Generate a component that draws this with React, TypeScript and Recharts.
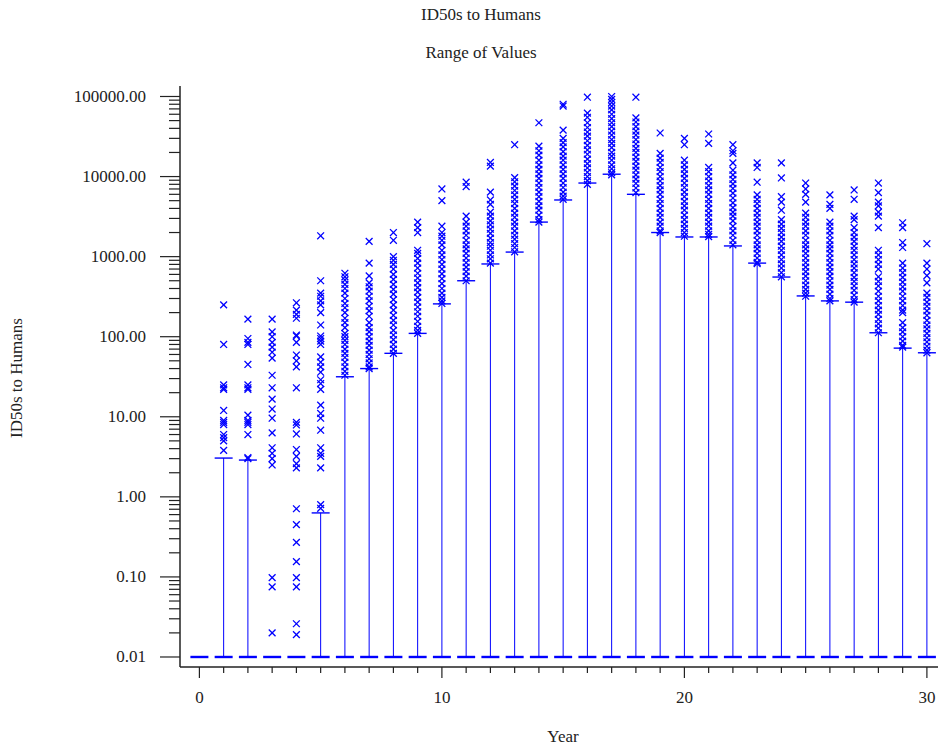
import { ComposedChart, XAxis, YAxis, Scatter, ReferenceLine } from 'recharts';

const FLOOR = 0.01;

const years = [
  0, 1, 2, 3, 4, 5, 6, 7, 8, 9, 10, 11, 12, 13, 14, 15, 16, 17, 18, 19, 20, 21, 22, 23, 24, 25, 26, 27, 28, 29, 30,
];

// top of each year's range line (null = no line drawn)
const upper: (number | null)[] = [
  null, 3.05, 2.88, null, null, 0.63, 31.6, 40, 62, 110, 257, 500, 810, 1140, 2700, 5100, 8300, 10700, 6000, 2000,
  1760, 1760, 1360, 830, 556, 323, 280, 270, 112, 72, 63,
];

// individual values plotted as x markers, one list per year
const markers: number[][] = [
  [],
  [250, 80, 25, 23, 22, 12, 9, 8.5, 8, 6, 5.5, 5, 3.8],
  [166, 95, 85, 80, 45, 25, 23, 22, 10.5, 9, 8.5, 8, 6, 3.1, 3.0],
  [166, 115, 100, 85, 74, 64, 54, 33, 23, 16.6, 12.5, 9.6, 6.3, 4.1, 3.5, 3.0, 2.5, 0.098, 0.075, 0.02],
  [265, 215, 190, 170, 105, 102, 85, 59, 50, 42, 23, 8.5, 7.9, 6.1, 3.9, 3.2, 2.6, 2.3, 0.71, 0.45, 0.27, 0.155, 0.098, 0.075, 0.026, 0.019],
  [1820, 500, 350, 320, 280, 250, 200, 140, 102, 95, 88, 80, 56, 48, 42, 36, 29, 26, 22, 14, 11, 9.6, 6.8, 4.1, 3.5, 3.2, 2.3, 0.8, 0.72],
  [620, 560, 510, 450, 400, 350, 300, 260, 230, 200, 170, 150, 130, 110, 100, 90, 80, 70, 62, 55, 48, 42, 37, 33],
  [1550, 830, 575, 470, 420, 370, 320, 280, 240, 210, 180, 150, 130, 115, 100, 88, 78, 68, 60, 53, 47, 42, 40],
  [2000, 1600, 1000, 900, 800, 700, 600, 520, 450, 390, 340, 290, 250, 215, 185, 160, 140, 120, 105, 92, 80, 70, 62],
  [2700, 2300, 2000, 1200, 1100, 950, 830, 720, 620, 540, 470, 410, 360, 310, 270, 235, 205, 180, 155, 135, 120, 110],
  [7000, 5000, 2400, 2000, 1800, 1600, 1400, 1200, 1050, 920, 800, 700, 610, 530, 460, 400, 350, 310, 280, 260],
  [8500, 7500, 3200, 2700, 2400, 2100, 1850, 1600, 1400, 1250, 1100, 960, 840, 740, 650, 570, 500],
  [15000, 13500, 6400, 5100, 4500, 3600, 3200, 2800, 2500, 2200, 1950, 1700, 1500, 1350, 1200, 1050, 940, 830],
  [25000, 9700, 8600, 7600, 6700, 5900, 5200, 4600, 4000, 3500, 3100, 2700, 2400, 2100, 1850, 1650, 1450, 1300, 1150],
  [47000, 24000, 21000, 18500, 16000, 14000, 12300, 10800, 9500, 8300, 7300, 6400, 5600, 4900, 4300, 3800, 3300, 2900, 2700],
  [80000, 76000, 38000, 30000, 26500, 23500, 20500, 18000, 16000, 14000, 12300, 10800, 9500, 8300, 7300, 6400, 5700, 5200],
  [98000, 62000, 55000, 47000, 41000, 36000, 32000, 28000, 24500, 21500, 19000, 16500, 14500, 12800, 11300, 10000, 8900, 8000],
  [100000, 92000, 84000, 76000, 68000, 60000, 53000, 47000, 42000, 37000, 33000, 29000, 26000, 23000, 20000, 18000, 16000, 14000, 12500, 11200, 10500],
  [98000, 54000, 48000, 42000, 37000, 33000, 29000, 25500, 22500, 20000, 17500, 15500, 13500, 12000, 10500, 9300, 8200, 7200, 6300],
  [35000, 19500, 17000, 15000, 13000, 11500, 10000, 8800, 7700, 6800, 6000, 5200, 4600, 4000, 3500, 3100, 2700, 2400, 2100, 2000],
  [30000, 25000, 16000, 14000, 12300, 10800, 9500, 8300, 7300, 6400, 5600, 4900, 4300, 3800, 3300, 2900, 2550, 2250, 2000, 1800],
  [34000, 26000, 13000, 11500, 10000, 8800, 7700, 6800, 6000, 5200, 4600, 4000, 3500, 3100, 2700, 2400, 2100, 1900, 1780],
  [25000, 21000, 19500, 14800, 12000, 10500, 9200, 8100, 7100, 6200, 5400, 4700, 4100, 3600, 3200, 2800, 2400, 2100, 1850, 1600, 1400],
  [14800, 13000, 8500, 5900, 5200, 4600, 4000, 3500, 3100, 2700, 2400, 2100, 1850, 1600, 1400, 1250, 1100, 960, 850, 820],
  [14800, 9600, 5600, 4800, 3800, 2900, 2550, 2250, 2000, 1750, 1550, 1350, 1200, 1050, 920, 810, 720, 630, 560],
  [8300, 7000, 6000, 4800, 3500, 3100, 2700, 2400, 2100, 1850, 1600, 1400, 1250, 1100, 960, 840, 740, 650, 570, 500, 440, 390, 350, 320],
  [5900, 4500, 4000, 2700, 2400, 2100, 1850, 1600, 1400, 1250, 1100, 960, 840, 740, 650, 570, 500, 440, 390, 340, 300, 280],
  [6800, 5200, 3200, 2900, 2300, 2000, 1750, 1550, 1350, 1200, 1050, 920, 810, 720, 630, 550, 490, 430, 380, 330, 290, 270],
  [8300, 6300, 4800, 4300, 3600, 3200, 2300, 1200, 1050, 920, 800, 700, 560, 490, 430, 370, 320, 280, 245, 215, 190, 165, 145, 128, 112],
  [2650, 2300, 1500, 1300, 830, 720, 630, 550, 480, 420, 370, 320, 280, 245, 215, 200, 150, 130, 115, 100, 88, 78, 74],
  [1450, 830, 700, 580, 470, 350, 310, 270, 240, 210, 185, 160, 140, 125, 110, 97, 86, 76, 68, 63],
];

const xTicks = years;
const yMajor = [0.01, 0.1, 1, 10, 100, 1000, 10000, 100000];
const yMinorSteps = [2, 3, 4, 5, 6, 7, 8, 9];

const BLUE = '#0000ff';
const INK = '#222';
const FONT = '"Liberation Serif", "Times New Roman", serif';

const yTicks = [
  ...yMajor,
  ...yMajor.slice(0, -1).flatMap((d) => yMinorSteps.map((k) => +(k * d).toPrecision(3))),
].sort((a, b) => a - b);

const markerPoints = markers.flatMap((vals, i) => vals.map((v) => ({ year: years[i], value: v })));
const floorPoints = years.map((yr) => ({ year: yr, value: FLOOR }));
const capPoints = years
  .map((yr, i) => ({ year: yr, value: upper[i] }))
  .filter((p) => p.value !== null) as { year: number; value: number }[];

const isMajor = (v: number) => Math.abs(Math.log10(v) - Math.round(Math.log10(v))) < 1e-6;

function XMark(props: any) {
  const { cx, cy } = props;
  if (cx == null || cy == null) return null;
  const r = 3.4;
  return (
    <g stroke={BLUE} strokeWidth={1.3}>
      <line x1={cx - r} y1={cy - r} x2={cx + r} y2={cy + r} />
      <line x1={cx - r} y1={cy + r} x2={cx + r} y2={cy - r} />
    </g>
  );
}

function Dash(props: any) {
  const { cx, cy } = props;
  if (cx == null || cy == null) return null;
  return <line x1={cx - 9} y1={cy} x2={cx + 9} y2={cy} stroke={BLUE} strokeWidth={2.4} />;
}

function Cap(props: any) {
  const { cx, cy } = props;
  if (cx == null || cy == null) return null;
  return <line x1={cx - 9} y1={cy} x2={cx + 9} y2={cy} stroke={BLUE} strokeWidth={1.4} />;
}

function YTick(props: any) {
  const { x, y, payload } = props;
  const v = payload.value as number;
  const major = isMajor(v);
  return (
    <g>
      <line x1={x - (major ? 20 : 11)} y1={y} x2={x} y2={y} stroke={INK} strokeWidth={1.2} />
      {major && (
        <text x={x - 34} y={y + 5.5} textAnchor="end" fontSize={17} fontFamily={FONT} fill={INK}>
          {v.toFixed(2)}
        </text>
      )}
    </g>
  );
}

function XTick(props: any) {
  const { x, y, payload } = props;
  const v = payload.value as number;
  const major = v % 10 === 0;
  return (
    <g>
      <line x1={x} y1={y} x2={x} y2={y + (major ? 11 : 6)} stroke={INK} strokeWidth={1.2} />
      {major && (
        <text x={x} y={y + 36} textAnchor="middle" fontSize={17} fontFamily={FONT} fill={INK}>
          {v}
        </text>
      )}
    </g>
  );
}

export default function App() {
  const textStyle = { position: 'absolute' as const, fontFamily: FONT, fontSize: 17, color: INK, lineHeight: '20px' };
  return (
    <div
      style={{
        position: 'fixed',
        left: 0,
        top: 0,
        width: 938,
        height: 747,
        overflow: 'hidden',
        background: '#fff',
      }}
    >
      <div style={{ ...textStyle, left: 0, width: 962, top: 5, textAlign: 'center' }}>ID50s to Humans</div>
      <div style={{ ...textStyle, left: 0, width: 962, top: 43, textAlign: 'center' }}>Range of Values</div>
      <div style={{ ...textStyle, left: 463, width: 200, top: 727, textAlign: 'center' }}>Year</div>
      <div
        style={{
          ...textStyle,
          left: 17 - 100,
          width: 200,
          top: 378 - 10,
          textAlign: 'center',
          transform: 'rotate(-90deg)',
        }}
      >
        ID50s to Humans
      </div>
      <div style={{ position: 'absolute', left: 0, top: 0 }}>
        <ComposedChart width={956} height={747} margin={{ top: 86, right: 0, bottom: 0, left: 0 }}>
          <XAxis
            dataKey="year"
            type="number"
            domain={[-0.8, 31.2]}
            allowDataOverflow
            ticks={xTicks}
            interval={0}
            height={80}
            tickSize={0}
            tickMargin={0}
            tickLine={false}
            tick={(p: any) => <XTick {...p} />}
            axisLine={{ stroke: INK, strokeWidth: 1.5 }}
          />
          <XAxis
            xAxisId="top"
            orientation="top"
            type="number"
            domain={[-0.8, 31.2]}
            height={0}
            tick={false}
            tickLine={false}
            axisLine={{ stroke: INK, strokeWidth: 2 }}
          />
          <YAxis
            dataKey="value"
            type="number"
            scale="log"
            domain={[Math.pow(10, -2.125), Math.pow(10, 5.131)]}
            allowDataOverflow
            ticks={yTicks}
            interval={0}
            width={180}
            tickSize={0}
            tickMargin={0}
            tickLine={false}
            tick={(p: any) => <YTick {...p} />}
            axisLine={{ stroke: INK, strokeWidth: 1.5 }}
          />
          {capPoints.map((p) => (
            <ReferenceLine
              key={p.year}
              segment={[
                { x: p.year, y: FLOOR },
                { x: p.year, y: p.value },
              ]}
              stroke={BLUE}
              strokeWidth={1}
            />
          ))}
          <Scatter data={floorPoints} shape={(p: any) => <Dash {...p} />} isAnimationActive={false} />
          <Scatter data={capPoints} shape={(p: any) => <Cap {...p} />} isAnimationActive={false} />
          <Scatter data={markerPoints} shape={(p: any) => <XMark {...p} />} isAnimationActive={false} />
        </ComposedChart>
      </div>
    </div>
  );
}
